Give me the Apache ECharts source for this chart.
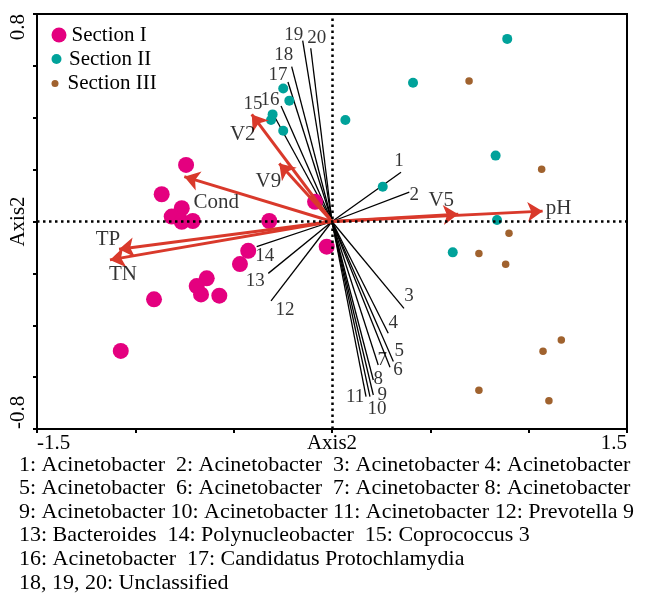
<!DOCTYPE html>
<html>
<head>
<meta charset="utf-8">
<title>RDA biplot</title>
<script src="https://cdn.jsdelivr.net/npm/echarts@6/dist/echarts.min.js"></script>
</head>
<body style="margin:0">
<div id="main" style="width:646px;height:596px;"></div>
<script>
// sample scores
var sectionI = [
  [-0.742, 0.218], [-0.866, 0.105], [-0.764, 0.051], [-0.815, 0.019], [-0.764, -0.001],
  [-0.708, 0.002], [-0.319, 0.002], [-0.086, 0.076], [-0.426, -0.113], [-0.468, -0.164],
  [-0.637, -0.219], [-0.688, -0.249], [-0.666, -0.281], [-0.573, -0.286], [-0.905, -0.300],
  [-1.074, -0.499], [-0.027, -0.097]
];
var sectionII = [
  [-0.248, 0.513], [-0.217, 0.466], [-0.302, 0.413], [-0.310, 0.391], [-0.248, 0.350],
  [0.891, 0.704], [0.412, 0.535], [0.068, 0.391], [0.832, 0.254], [0.258, 0.134],
  [0.839, 0.006], [0.614, -0.119]
];
var sectionIII = [
  [0.697, 0.542], [1.066, 0.201], [0.900, -0.045], [0.747, -0.123], [0.883, -0.165],
  [1.166, -0.457], [1.073, -0.500], [0.747, -0.651], [1.103, -0.691]
];

// environmental arrows
var envNames = ['pH', 'V5', 'Cond', 'V2', 'V9', 'TP', 'TN'];
var envX = [1.071, 0.642, -0.751, -0.408, -0.268, -1.083, -1.129];
var envY = [0.040, 0.028, 0.173, 0.413, 0.224, -0.107, -0.148];

// taxa vectors
var taxaIds = ['1', '2', '3', '4', '5', '6', '7', '8', '9', '10',
               '11', '12', '13', '14', '15', '16', '17', '18', '19', '20'];
var taxaX = [0.351, 0.393, 0.366, 0.286, 0.312, 0.295, 0.235, 0.210, 0.210, 0.193,
             0.173, -0.310, -0.324, -0.383, -0.305, -0.259, -0.224, -0.205, -0.149, -0.108];
var taxaY = [0.190, 0.113, -0.335, -0.431, -0.540, -0.562, -0.553, -0.611, -0.669, -0.675,
             -0.675, -0.306, -0.200, -0.097, 0.422, 0.445, 0.538, 0.597, 0.697, 0.668];

var xTickLabels = ['-1.5', '1.5'];
var yTickLabels = ['-0.8', '0.8'];

var taxonNotes = [
  '1: Acinetobacter  2: Acinetobacter  3: Acinetobacter 4: Acinetobacter',
  '5: Acinetobacter  6: Acinetobacter  7: Acinetobacter 8: Acinetobacter',
  '9: Acinetobacter 10: Acinetobacter 11: Acinetobacter 12: Prevotella 9',
  '13: Bacteroides  14: Polynucleobacter  15: Coprococcus 3',
  '16: Acinetobacter  17: Candidatus Protochlamydia',
  '18, 19, 20: Unclassified'
];

// label nudges in px (style only)
var envLabelOffset = [[16, -3], [-17, -14], [32, 26], [-9, 20], [-11, 18], [-11, -10], [13, 15]];
var taxaLabelOffset = [[-2, -11], [5, 3], [5, -12], [5, -10], [6, -11], [8, 3], [4, -5], [5, -1],
  [9, 0], [7, 12], [-11, 0], [14, 9], [-13, 8], [8, 9], [-19, -8], [-11, -6], [-10, -7],
  [-8, -12], [-9, -6], [6, -10]];

var font = 'Liberation Serif';
var ink = '#000';
var red = '#d9392b';

var myChart = echarts.init(document.getElementById('main'));

var legendBase = {
  orient: 'vertical', left: 51.5, padding: 0, itemWidth: 15, selectedMode: false,
  textStyle: { fontFamily: font, fontSize: 21, color: ink }
};

var option = {
  backgroundColor: '#fff',
  animation: false,
  title: {
    text: taxonNotes.join('\n'),
    left: 19, top: 453, padding: 0,
    textStyle: { fontFamily: font, fontSize: 22, fontWeight: 'normal', color: ink, lineHeight: 23.6 }
  },
  legend: [
    Object.assign({}, legendBase, { data: ['Section I'], top: 24.5, itemHeight: 15 }),
    Object.assign({}, legendBase, { data: ['Section II'], top: 48.5, itemHeight: 10 }),
    Object.assign({}, legendBase, { data: ['Section III'], top: 73, itemHeight: 7 })
  ],
  grid: {
    left: 37, right: 19, top: 14, bottom: 167, outerBoundsMode: 'none', containLabel: false,
    show: true, borderColor: '#000', borderWidth: 2
  },
  xAxis: {
    type: 'value', min: -1.5, max: 1.5, interval: 0.5,
    name: 'Axis2', nameLocation: 'middle', nameGap: 4, nameMoveOverlap: false,
    nameTextStyle: { fontFamily: font, fontSize: 21, color: ink, verticalAlign: 'top' },
    axisLine: { onZero: false, lineStyle: { color: '#000', width: 2 } },
    axisTick: { length: 4, lineStyle: { color: '#000', width: 2 } },
    axisLabel: {
      margin: 4, fontFamily: font, fontSize: 21, color: ink,
      alignMinLabel: 'left', alignMaxLabel: 'right',
      formatter: function (v) {
        var s = String(v);
        return xTickLabels.indexOf(s) >= 0 ? s : '';
      }
    },
    splitLine: { show: false }
  },
  yAxis: {
    type: 'value', min: -0.8, max: 0.8, interval: 0.2,
    name: 'Axis2', nameLocation: 'middle', nameGap: 8, nameRotate: 90, nameMoveOverlap: false,
    nameTextStyle: { fontFamily: font, fontSize: 21, color: ink },
    axisLine: { onZero: false, lineStyle: { color: '#000', width: 2 } },
    axisTick: { length: 4, lineStyle: { color: '#000', width: 2 } },
    axisLabel: {
      margin: 8, rotate: 90, fontFamily: font, fontSize: 21, color: ink,
      alignMinLabel: 'left', alignMaxLabel: 'right',
      formatter: function (v) {
        var s = String(v);
        return yTickLabels.indexOf(s) >= 0 ? s : '';
      }
    },
    splitLine: { show: false }
  },
  series: [
    {
      name: 'taxa', type: 'lines', coordinateSystem: 'cartesian2d', z: 2, silent: true,
      lineStyle: { color: '#000', width: 1.3, opacity: 1 },
      data: taxaX.map(function (x, i) { return { coords: [[0, 0], [x, taxaY[i]]] }; })
    },
    {
      name: 'Section I', type: 'scatter', symbol: 'circle', symbolSize: 16, z: 3,
      itemStyle: { color: '#e4007f', opacity: 1 },
      data: sectionI,
      markLine: {
        silent: true, symbol: 'none', label: { show: false },
        lineStyle: { color: '#000', type: [2.5, 3.5], width: 2.5 },
        data: [{ xAxis: 0 }, { yAxis: 0 }]
      }
    },
    {
      name: 'Section II', type: 'scatter', symbol: 'circle', symbolSize: 10, z: 3,
      itemStyle: { color: '#00a29a', opacity: 1 },
      data: sectionII
    },
    {
      name: 'Section III', type: 'scatter', symbol: 'circle', symbolSize: 7.5, z: 3,
      itemStyle: { color: '#a0622e', opacity: 1 },
      data: sectionIII
    },
    {
      name: 'env', type: 'lines', coordinateSystem: 'cartesian2d', z: 4, silent: true,
      symbol: ['none', 'arrow'], symbolSize: 15,
      lineStyle: { color: red, width: 3, opacity: 1 },
      itemStyle: { color: red },
      data: envX.map(function (x, i) { return { coords: [[0, 0], [x, envY[i]]] }; })
    },
    {
      name: 'envLabels', type: 'scatter', symbolSize: 1, z: 5, silent: true,
      itemStyle: { color: 'rgba(0,0,0,0)' },
      label: { show: true, position: 'inside', fontFamily: font, fontSize: 21, color: ink,
        formatter: function (p) { return p.name; } },
      data: envX.map(function (x, i) {
        return { name: envNames[i], value: [x, envY[i]], label: { offset: envLabelOffset[i] } };
      })
    },
    {
      name: 'taxaLabels', type: 'scatter', symbolSize: 1, z: 5, silent: true,
      itemStyle: { color: 'rgba(0,0,0,0)' },
      label: { show: true, position: 'inside', fontFamily: font, fontSize: 19, color: ink,
        formatter: function (p) { return p.name; } },
      data: taxaX.map(function (x, i) {
        return { name: taxaIds[i], value: [x, taxaY[i]], label: { offset: taxaLabelOffset[i] } };
      })
    }
  ]
};

myChart.setOption(option);
</script>
</body>
</html>
